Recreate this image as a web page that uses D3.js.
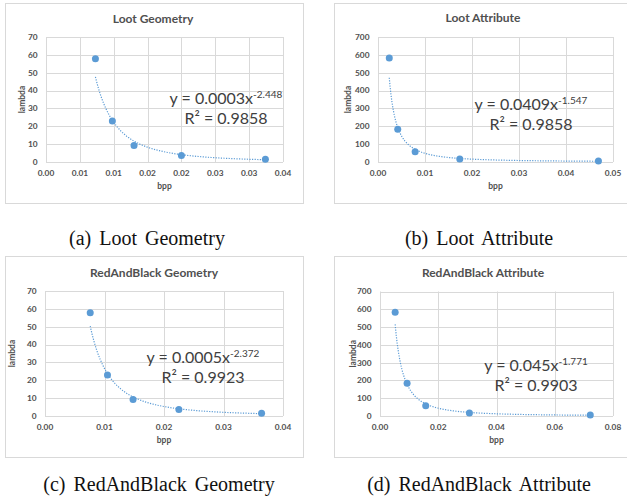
<!DOCTYPE html>
<html>
<head>
<meta charset="utf-8">
<script src="https://cdn.jsdelivr.net/npm/d3@7"></script>
<style>
  body { margin: 0; background: #fff; }
  svg { display: block; }
</style>
</head>
<body>
<svg width="627" height="501"></svg>
<script>
// values
const lootGeoBpp = [0.0073, 0.0098, 0.0130, 0.0200, 0.0324];
const lootGeoLambda = [57.8, 23.0, 9.2, 3.7, 1.5];

const lootAttrBpp = [0.0024, 0.0042, 0.0079, 0.0174, 0.0469];
const lootAttrLambda = [583, 184, 58, 17, 5];

const rabGeoBpp = [0.0076, 0.0105, 0.0148, 0.0225, 0.0364];
const rabGeoLambda = [57.8, 23.0, 9.2, 3.7, 1.5];

const rabAttrBpp = [0.0052, 0.0093, 0.0157, 0.0307, 0.0722];
const rabAttrLambda = [583, 184, 58, 17, 5];

const titles = ["Loot Geometry", "Loot Attribute", "RedAndBlack Geometry", "RedAndBlack Attribute"];
const captions = ["(a) Loot Geometry", "(b) Loot Attribute", "(c) RedAndBlack Geometry", "(d) RedAndBlack Attribute"];
const eqCoef = ["0.0003", "0.0409", "0.0005", "0.045"];
const eqExp = ["-2.448", "-1.547", "-2.372", "-1.771"];
const rSquared = ["0.9858", "0.9858", "0.9923", "0.9903"];

const geoYTicks = [0, 10, 20, 30, 40, 50, 60, 70];
const attrYTicks = [0, 100, 200, 300, 400, 500, 600, 700];

const lootGeoXTicks = [0, 0.005, 0.01, 0.015, 0.02, 0.025, 0.03, 0.035];
const lootGeoXLabels = ["0.00", "0.01", "0.01", "0.02", "0.02", "0.03", "0.03", "0.04"];
const lootAttrXTicks = [0, 0.01, 0.02, 0.03, 0.04, 0.05];
const lootAttrXLabels = ["0.00", "0.01", "0.02", "0.03", "0.04", "0.05"];
const rabGeoXTicks = [0, 0.01, 0.02, 0.03, 0.04];
const rabGeoXLabels = ["0.00", "0.01", "0.02", "0.03", "0.04"];
const rabAttrXTicks = [0, 0.02, 0.04, 0.06, 0.08];
const rabAttrXLabels = ["0.00", "0.02", "0.04", "0.06", "0.08"];

const blue = "#5b9bd5";
const grid = "#d9d9d9";
const chartFont = "Lato, 'Open Sans', sans-serif";

const svg = d3.select("svg");

// layout of each sub-figure
const panels = [
  { bpp: lootGeoBpp, lambda: lootGeoLambda, xTicks: lootGeoXTicks, xLabels: lootGeoXLabels, yTicks: geoYTicks,
    box: [5, 3, 303, 203], plot: [46, 37, 283, 162], title: [153, 23], lambdaDx: -24, eq: [226, 104], cap: [147, 245] },
  { bpp: lootAttrBpp, lambda: lootAttrLambda, xTicks: lootAttrXTicks, xLabels: lootAttrXLabels, yTicks: attrYTicks,
    box: [334, 3, 629, 203], plot: [378, 37, 613, 162], title: [483, 22], lambdaDx: -30, eq: [531, 110], cap: [479, 245] },
  { bpp: rabGeoBpp, lambda: rabGeoLambda, xTicks: rabGeoXTicks, xLabels: rabGeoXLabels, yTicks: geoYTicks,
    box: [5, 256, 303, 457], plot: [45, 291, 283, 416], title: [154, 277], lambdaDx: -33, eq: [203, 363], cap: [159, 491] },
  { bpp: rabAttrBpp, lambda: rabAttrLambda, xTicks: rabAttrXTicks, xLabels: rabAttrXLabels, yTicks: attrYTicks,
    box: [334, 256, 629, 457], plot: [380, 291.5, 613, 416], title: [483, 277], lambdaDx: -27, eq: [536, 371], cap: [479, 491] }
];

// least squares fit of ln(y) = ln(a) + b ln(x), like an Excel power trendline
const powerFit = (xs, ys) => {
  const lx = xs.map(Math.log);
  const ly = ys.map(Math.log);
  const mx = d3.mean(lx), my = d3.mean(ly);
  const b = d3.sum(lx, (v, i) => (v - mx) * (ly[i] - my)) / d3.sum(lx, v => (v - mx) * (v - mx));
  return { a: Math.exp(my - b * mx), b };
};

panels.forEach((p, k) => {
  const g = svg.append("g");
  const [bx0, by0, bx1, by1] = p.box;
  const [px0, py0, px1, py1] = p.plot;

  g.append("rect")
    .attr("x", bx0 + 0.5).attr("y", by0 + 0.5)
    .attr("width", bx1 - bx0).attr("height", by1 - by0)
    .attr("fill", "#fff").attr("stroke", grid);

  const x = d3.scaleLinear().domain([0, d3.max(p.xTicks)]).range([px0, px1]);
  const y = d3.scaleLinear().domain([0, d3.max(p.yTicks)]).range([py1, py0]);

  // gridlines
  g.selectAll(".hg").data(p.yTicks).join("line")
    .attr("x1", px0).attr("x2", px1)
    .attr("y1", d => Math.round(y(d)) + 0.5).attr("y2", d => Math.round(y(d)) + 0.5)
    .attr("stroke", grid);
  g.selectAll(".vg").data(p.xTicks).join("line")
    .attr("y1", py0).attr("y2", py1)
    .attr("x1", d => Math.round(x(d)) + 0.5).attr("x2", d => Math.round(x(d)) + 0.5)
    .attr("stroke", grid);

  // tick labels
  g.append("g").selectAll("text").data(p.yTicks).join("text")
    .attr("x", px0 - 8.5).attr("y", d => y(d)).attr("dy", "0.35em")
    .attr("text-anchor", "end")
    .attr("font-family", chartFont).attr("font-size", 8.3).attr("font-weight", "bold")
    .attr("fill", "#505050").text(d => d);
  g.append("g").selectAll("text").data(p.xTicks).join("text")
    .attr("x", d => x(d)).attr("y", py1 + 14)
    .attr("text-anchor", "middle")
    .attr("font-family", chartFont).attr("font-size", 8.3).attr("font-weight", "bold")
    .attr("fill", "#505050").text((d, i) => p.xLabels[i]);

  // titles
  g.append("text").attr("x", p.title[0]).attr("y", p.title[1])
    .attr("text-anchor", "middle")
    .attr("font-family", chartFont).attr("font-size", 12).attr("font-weight", "bold")
    .attr("fill", "#505050").text(titles[k]);
  g.append("text").attr("x", (px0 + px1) / 2).attr("y", py1 + 27)
    .attr("text-anchor", "middle")
    .attr("font-family", chartFont).attr("font-size", 8.5).attr("font-weight", "bold")
    .attr("fill", "#505050").text("bpp");
  g.append("text")
    .attr("transform", `translate(${px0 + p.lambdaDx},${(py0 + py1) / 2}) rotate(-90)`)
    .attr("text-anchor", "middle").attr("dy", "0.35em")
    .attr("font-family", chartFont).attr("font-size", 8.5).attr("font-weight", "bold")
    .attr("fill", "#505050").text("lambda");

  // points
  const pts = p.bpp.map((v, i) => ({ bpp: v, lambda: p.lambda[i] }));
  g.selectAll("circle").data(pts).join("circle")
    .attr("cx", d => x(d.bpp)).attr("cy", d => y(d.lambda))
    .attr("r", 3.5).attr("fill", blue);

  // power trendline
  const fit = powerFit(p.bpp, p.lambda);
  const lo = d3.min(p.bpp), hi = d3.max(p.bpp);
  const curve = d3.range(80).map(i => {
    const bv = lo * Math.pow(hi / lo, i / 79);
    return [bv, fit.a * Math.pow(bv, fit.b)];
  });
  g.append("path")
    .attr("d", d3.line().x(d => x(d[0])).y(d => y(d[1]))(curve))
    .attr("fill", "none").attr("stroke", blue)
    .attr("stroke-width", 1.2).attr("stroke-dasharray", "1.2,1.4");

  // equation
  const eq = g.append("text").attr("x", p.eq[0]).attr("y", p.eq[1])
    .attr("text-anchor", "middle")
    .attr("font-family", chartFont).attr("font-size", 16).attr("fill", "#404040");
  eq.append("tspan").text(`y = ${eqCoef[k]}x`);
  eq.append("tspan").attr("font-size", 10).attr("dy", -6).text(eqExp[k]);
  g.append("text").attr("x", p.eq[0]).attr("y", p.eq[1] + 20)
    .attr("text-anchor", "middle")
    .attr("font-family", chartFont).attr("font-size", 16).attr("fill", "#404040")
    .text(`R² = ${rSquared[k]}`);

  // sub-figure caption
  svg.append("text").attr("x", p.cap[0]).attr("y", p.cap[1])
    .attr("text-anchor", "middle")
    .attr("font-family", "'Liberation Serif', 'Times New Roman', serif")
    .attr("font-size", 20).attr("word-spacing", 3).attr("fill", "#111")
    .text(captions[k]);
});
</script>
</body>
</html>
